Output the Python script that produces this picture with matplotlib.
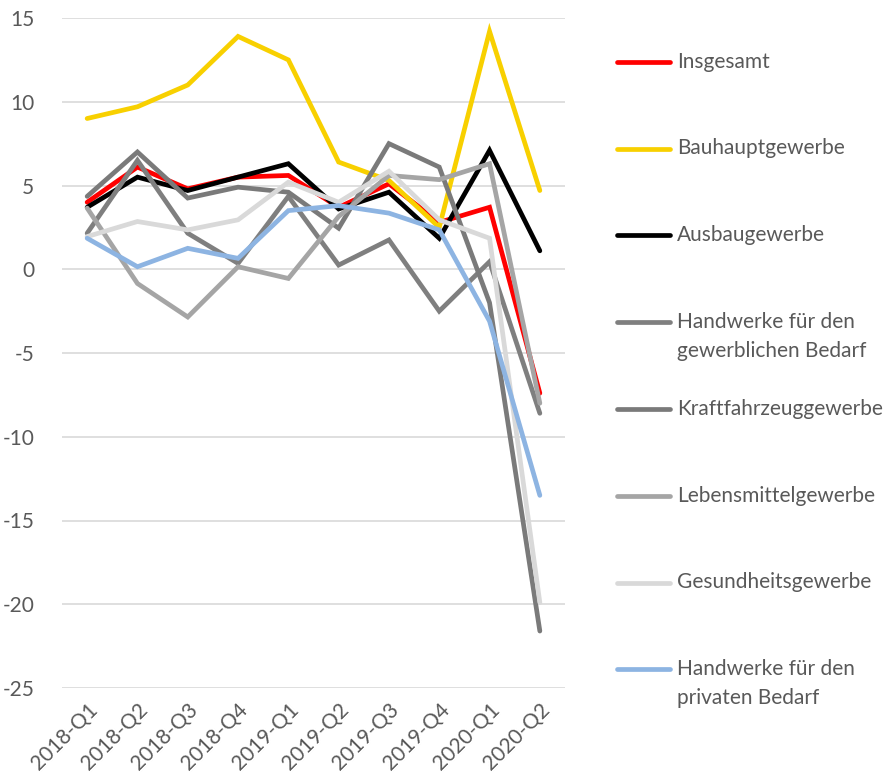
import matplotlib
matplotlib.use("Agg")
import matplotlib.pyplot as plt
from matplotlib.lines import Line2D

# quarters on the x axis
quarters = ["2018-Q1", "2018-Q2", "2018-Q3", "2018-Q4", "2019-Q1",
            "2019-Q2", "2019-Q3", "2019-Q4", "2020-Q1", "2020-Q2"]

# change in turnover vs. previous year, per sector
insgesamt = [4.0, 6.1, 4.8, 5.5, 5.6, 3.7, 5.1, 2.8, 3.7, -7.4]
bauhaupt = [9.0, 9.7, 11.0, 13.9, 12.5, 6.4, 5.3, 2.5, 14.2, 4.7]
ausbau = [3.7, 5.5, 4.7, 5.5, 6.3, 3.6, 4.6, 1.85, 7.1, 1.1]
hw_gewerblich = [2.15, 6.5, 2.15, 0.35, 4.35, 0.25, 1.75, -2.5, 0.45, -8.6]
kfz = [4.35, 7.0, 4.25, 4.9, 4.6, 2.45, 7.5, 6.1, -2.0, -21.6]
lebensmittel = [3.65, -0.85, -2.85, 0.15, -0.55, 3.15, 5.6, 5.35, 6.3, -8.0]
gesundheit = [1.95, 2.85, 2.35, 2.95, 5.2, 4.0, 5.85, 2.95, 1.85, -19.9]
hw_privat = [1.85, 0.15, 1.25, 0.65, 3.5, 3.8, 3.35, 2.35, -3.1, -13.5]

labels = ["Insgesamt", "Bauhauptgewerbe", "Ausbaugewerbe",
          "Handwerke für den\ngewerblichen Bedarf", "Kraftfahrzeuggewerbe",
          "Lebensmittelgewerbe", "Gesundheitsgewerbe",
          "Handwerke für den\nprivaten Bedarf"]
series = [insgesamt, bauhaupt, ausbau, hw_gewerblich, kfz,
          lebensmittel, gesundheit, hw_privat]
colors = ["#FF0000", "#F8D000", "#000000", "#7F7F7F", "#7A7A7A",
          "#A5A5A5", "#D9D9D9", "#8DB4E2"]

TEXT = "#595959"
FS = 15
plt.rcParams["font.family"] = ["Lato", "DejaVu Sans"]
plt.rcParams["axes.unicode_minus"] = False

W, H = 895, 780
fig = plt.figure(figsize=(W / 100, H / 100), dpi=100)
ax = fig.add_axes([62 / W, (H - 688) / H, (565 - 62) / W, (688 - 18) / H])

x = list(range(len(quarters)))
for vals, col in zip(series, colors):
    ax.plot(x, vals, color=col, lw=3.4, solid_capstyle="round",
            solid_joinstyle="miter")

ax.set_xlim(-0.5, len(quarters) - 0.5)
ax.set_ylim(-25, 15)
ax.set_yticks(range(-25, 16, 5))
ax.grid(axis="y", color="#D9D9D9", lw=1.2)
ax.set_axisbelow(True)
for s in ax.spines.values():
    s.set_visible(False)
ax.tick_params(length=0, labelsize=FS, labelcolor=TEXT)
ax.tick_params(axis="y", pad=20)
ax.set_xticks(x)
ax.set_xticklabels(quarters, rotation=45, ha="right", va="top",
                   rotation_mode="anchor")
ax.tick_params(axis="x", pad=8)

# legend drawn by hand so the handle sits on the first text line
y0, step = 61.7, 86.8
for i, (lab, col) in enumerate(zip(labels, colors)):
    yp = y0 + i * step
    fy = 1 - yp / H
    fig.add_artist(Line2D([617 / W, 670 / W], [fy, fy], color=col, lw=3.4,
                          solid_capstyle="round", transform=fig.transFigure))
    fig.text(677 / W, fy, lab.split("\n")[0], color=TEXT, fontsize=FS,
             va="center", ha="left")
    if "\n" in lab:
        fig.text(677 / W, 1 - (yp + 29) / H, lab.split("\n")[1], color=TEXT,
                 fontsize=FS, va="center", ha="left")

fig.savefig("out.png", dpi=100)
